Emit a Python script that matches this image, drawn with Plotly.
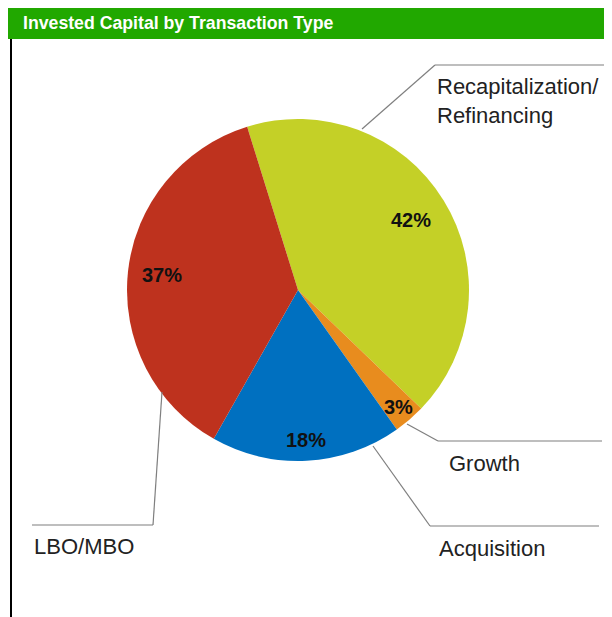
import math
import plotly.graph_objects as go

# ---- data ----
categories = ["Recapitalization/<br>Refinancing", "Growth", "Acquisition", "LBO/MBO"]
values = [42, 3, 18, 37]
colors = ["#c4d027", "#e88c1e", "#0070c0", "#be321e"]
title_text = "Invested Capital by Transaction Type"

PAGE_OFF = 8                       # browser body margin
W, H = 612 - PAGE_OFF, 617 - PAGE_OFF
CX, CY, R = 298, 290, 171          # pie centre / radius in page pixels
ROT = -17.3                        # start angle (deg, clockwise from 12 o'clock)
label_radius = [0.78, 0.90, 0.88, 0.80]
FONT = "Liberation Sans, Arial"


def px(x):
    return (x - PAGE_OFF) / W


def py(y):
    return 1 - (y - PAGE_OFF) / H


fig = go.Figure()
fig.add_trace(go.Pie(
    labels=[c.replace("<br>", " ") for c in categories],
    values=values,
    marker=dict(colors=colors, line=dict(width=0)),
    sort=False,
    direction="clockwise",
    rotation=ROT,
    textinfo="none",
    hoverinfo="label+percent",
    showlegend=False,
    domain=dict(x=[px(CX - R), px(CX + R)], y=[py(CY + R), py(CY - R)]),
))

annotations = []
shapes = []

# percentage labels computed from the data
total = sum(values)
start = ROT
for v, rf in zip(values, label_radius):
    span = v / total * 360
    mid = math.radians(start + span / 2)
    x = CX + rf * R * math.sin(mid)
    y = CY - rf * R * math.cos(mid)
    annotations.append(dict(
        x=px(x), y=py(y), xref="paper", yref="paper",
        text=f"<b>{round(v / total * 100)}%</b>", showarrow=False,
        xanchor="center", yanchor="middle",
        font=dict(family=FONT, size=20, color="#111111"),
    ))
    start += span

# title bar
shapes.append(dict(type="rect", xref="paper", yref="paper",
                   x0=px(8), x1=px(612), y0=py(39), y1=py(8),
                   fillcolor="#21a800", line=dict(width=0), layer="above"))
annotations.append(dict(x=px(21), y=py(23), xref="paper", yref="paper",
                        text=f"<b>{title_text}</b>", showarrow=False,
                        xanchor="left", yanchor="middle",
                        font=dict(family=FONT, size=17.7, color="white")))
# left frame line
shapes.append(dict(type="line", xref="paper", yref="paper",
                   x0=px(11), x1=px(11), y0=py(39), y1=py(617),
                   line=dict(color="#000000", width=2)))

# leader lines
leaders = [
    [(362, 129), (435, 65), (612, 65)],
    [(407, 424), (438, 441), (602, 441)],
    [(373, 446), (430, 526), (599, 526)],
    [(162, 392), (153, 525), (32, 525)],
]
for pts in leaders:
    for (x0, y0), (x1, y1) in zip(pts[:-1], pts[1:]):
        shapes.append(dict(type="line", xref="paper", yref="paper",
                           x0=px(x0), y0=py(y0), x1=px(x1), y1=py(y1),
                           line=dict(color="#7f7f7f", width=1.2)))

# category labels
label_pos = [(435, 101), (447, 463), (437, 548), (32, 546)]
for name, (x, y) in zip(categories, label_pos):
    annotations.append(dict(x=px(x), y=py(y), xref="paper", yref="paper",
                            text=name, showarrow=False, align="left",
                            xanchor="left", yanchor="middle",
                            font=dict(family=FONT, size=22, color="#222222")))

fig.update_layout(
    width=W, height=H,
    margin=dict(l=0, r=0, t=0, b=0),
    paper_bgcolor="white", plot_bgcolor="white",
    shapes=shapes, annotations=annotations,
)

fig.write_html("out.html")
